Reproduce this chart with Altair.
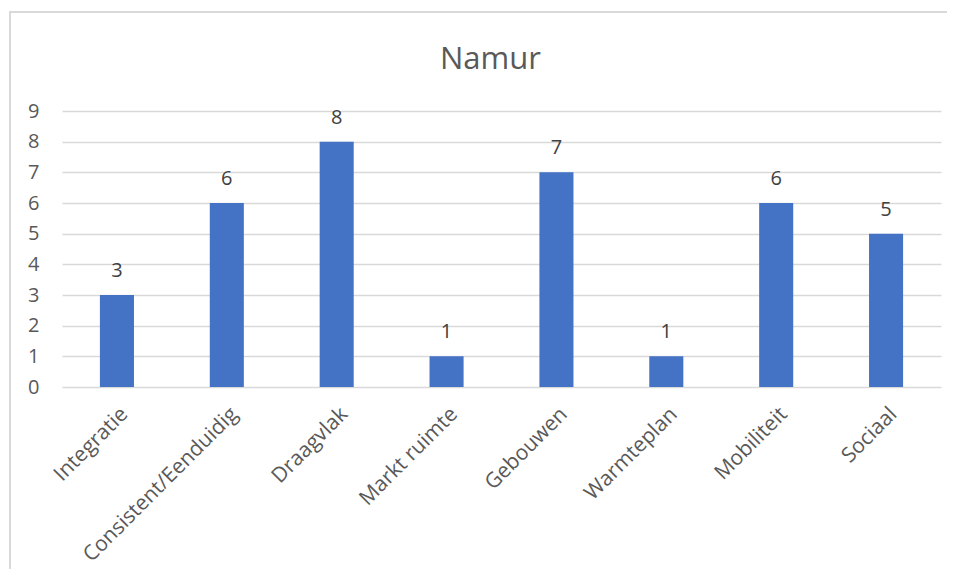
import altair as alt
import pandas as pd

categories = ["Integratie", "Consistent/Eenduidig", "Draagvlak", "Markt ruimte",
              "Gebouwen", "Warmteplan", "Mobiliteit", "Sociaal"]
values = [3, 6, 8, 1, 7, 1, 6, 5]
y_ticks = [0, 1, 2, 3, 4, 5, 6, 7, 8, 9]

df = pd.DataFrame({"cat": categories, "val": values})

FONT = "Open Sans"
W, H = 879, 276

x = alt.X("cat:N", sort=categories, title=None,
          scale=alt.Scale(paddingInner=0.69, paddingOuter=0.345),
          axis=alt.Axis(labelAngle=-45, labelAlign="right", labelBaseline="top",
                        labelFontSize=21, labelColor="#595959", labelFont=FONT,
                        labelLimit=400,
                        ticks=False, domain=False, labelPadding=16, grid=False))
y = alt.Y("val:Q", title=None,
          scale=alt.Scale(domain=[0, 9], nice=False),
          axis=alt.Axis(values=y_ticks, labelOverlap=False,
                        labelFontSize=20, labelColor="#595959",
                        labelFont=FONT, ticks=False, domain=False, labelPadding=23,
                        grid=True, gridColor="#D9D9D9", gridWidth=1.3))

border = alt.Chart(df).mark_rect(fill=None, stroke="#D9D9D9", strokeWidth=1.5).encode(
    x=alt.value(-52), x2=alt.value(W + 40), y=alt.value(-99), y2=alt.value(H + 260)
)

bars = alt.Chart(df).mark_bar(color="#4472C4").encode(x=x, y=y)
labels = alt.Chart(df).mark_text(fontSize=20, color="#404040", font=FONT,
                                 baseline="alphabetic", dy=-18).encode(
    x=x, y=y, text="val:Q")

chart = alt.layer(border, bars, labels).properties(
    width=W, height=H,
    title=alt.TitleParams("Namur", fontSize=31, font=FONT, color="#595959",
                          fontWeight="normal", anchor="middle", dx=-11,
                          baseline="alphabetic", offset=-89),
    autosize=alt.AutoSizeParams(type="none"),
    padding={"left": 54, "top": 103, "right": 6, "bottom": 182},
).configure_view(stroke=None)

chart.save("out.html", embed_options={"renderer": "svg", "actions": False})
